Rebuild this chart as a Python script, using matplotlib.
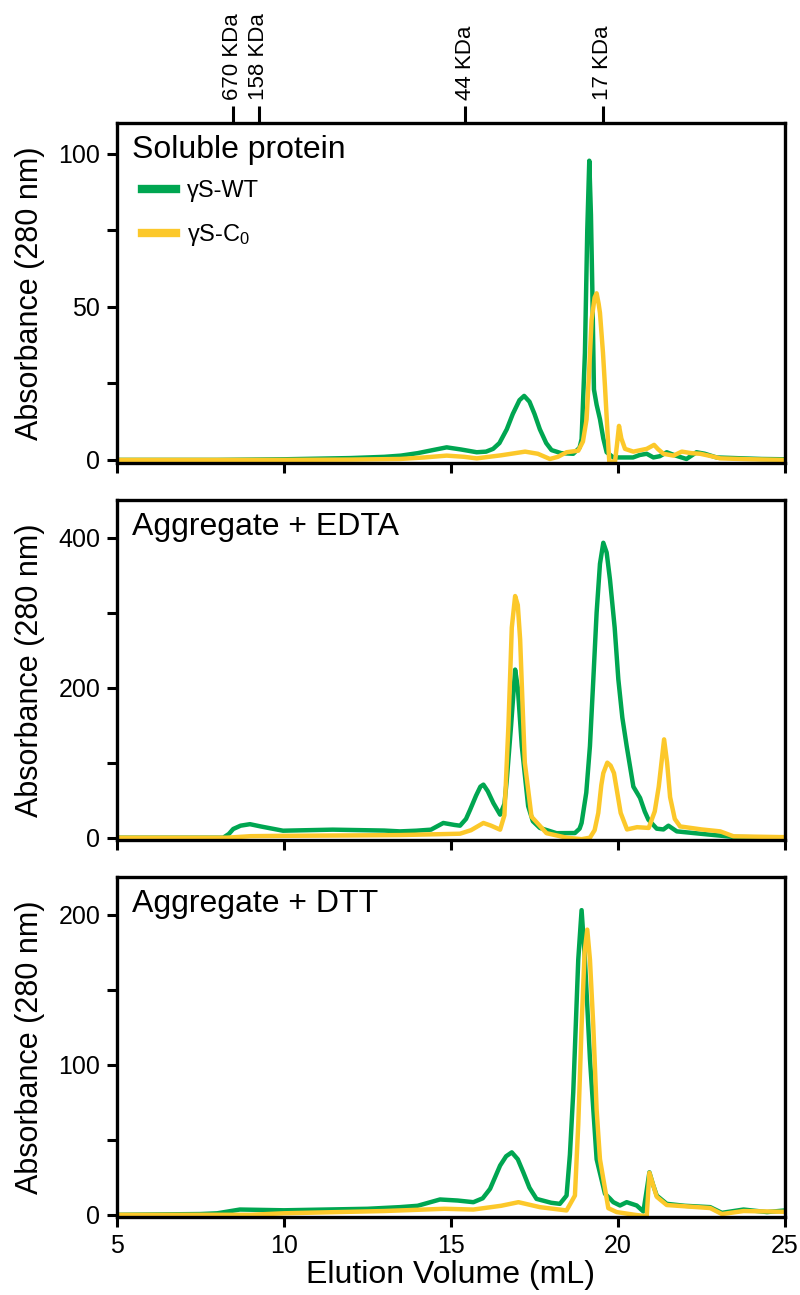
import matplotlib
matplotlib.use("Agg")
import matplotlib.pyplot as plt
from matplotlib.lines import Line2D
from matplotlib import font_manager

names = {f.name for f in font_manager.fontManager.ttflist}
MAIN_FONT = "Liberation Sans" if "Liberation Sans" in names else "DejaVu Sans"
plt.rcParams["font.family"] = [MAIN_FONT, "DejaVu Sans"]
plt.rcParams["mathtext.fontset"] = "custom"
plt.rcParams["mathtext.rm"] = MAIN_FONT
plt.rcParams["mathtext.it"] = MAIN_FONT

GREEN = "#00a651"
YELLOW = "#fcc82a"

# ---- data ----
# Soluble protein
sol_wt_x = [5, 8, 10, 11, 12, 13, 13.5, 14.0, 14.5, 14.87, 15.3, 15.77, 16.05, 16.26, 16.45,
            16.67, 16.85, 17.05, 17.19, 17.35, 17.5, 17.66, 17.85, 18.01, 18.3, 18.66, 18.85,
            18.91, 19.01, 19.08, 19.14, 19.19, 19.23, 19.28, 19.36, 19.46, 19.56, 19.66, 19.86,
            20.2, 20.45, 20.65, 20.86, 21.06, 21.25, 21.46, 21.7, 22.05, 22.35, 22.6, 22.95,
            23.75, 24.3, 25]
sol_wt_y = [0, 0, 0.2, 0.4, 0.6, 1.0, 1.4, 2.2, 3.3, 4.1, 3.4, 2.5, 2.7, 3.6, 5.5,
            10, 15, 19.5, 20.9, 19, 15, 10, 5.5, 3.2, 2.2, 2, 4,
            6.8, 35, 75, 97.7, 80, 56.6, 23, 18, 13.3, 7, 2.5, 0.8,
            0.8, 0.8, 1.6, 2, 0.8, 1.2, 2.5, 1.5, 0.3, 2.5, 2, 0.8,
            0.5, 0.3, 0.2]
sol_c0_x = [5, 10, 12, 13.47, 14.2, 14.87, 15.4, 15.77, 16.5, 17.22, 17.6, 17.96, 18.2, 18.46,
            18.81, 18.95, 19.06, 19.14, 19.21, 19.3, 19.36, 19.42, 19.46, 19.55, 19.61, 19.68,
            19.74, 19.91, 19.97, 20.03, 20.1, 20.21, 20.46, 20.86, 21.08, 21.2, 21.36, 21.66,
            21.91, 22.2, 22.46, 22.8, 23.06, 24, 25]
sol_c0_y = [0, 0, 0.1, 0.3, 0.8, 1.4, 1.0, 0.5, 1.5, 2.7, 2.0, 0.3, 1.0, 2.5,
            3, 6, 13.3, 30, 45.8, 53, 54.4, 51, 48, 35, 24, 10,
            -0.6, -0.6, 5, 11.1, 7, 3.6, 2.7, 3.6, 4.9, 3.5, 2, 1.4,
            2.7, 2.2, 2, 1.2, 0.5, 0.2, 0]

# Aggregate + EDTA
edta_wt_x = [5, 8.18, 8.35, 8.48, 8.7, 8.98, 9.3, 9.97, 11.46, 13.0, 13.47, 13.96, 14.4, 14.77,
             15.1, 15.27, 15.45, 15.57, 15.75, 15.88, 15.97, 16.1, 16.27, 16.47, 16.6, 16.67,
             16.8, 16.92, 17.0, 17.12, 17.31, 17.45, 17.66, 18.16, 18.71, 18.85, 18.91, 19.05,
             19.16, 19.26, 19.36, 19.46, 19.56, 19.66, 19.76, 19.9, 20.01, 20.13, 20.26, 20.46,
             20.66, 20.8, 20.91, 21.16, 21.36, 21.51, 21.76, 22.46, 23.46, 25]
edta_wt_y = [0, 0, 5, 11.6, 16, 18, 15, 9.3, 10.7, 9.5, 8.4, 9.3, 10.7, 19.6,
             17, 16, 25, 37, 56, 68, 70.7, 62, 46, 30.7, 45, 77,
             150, 224, 200, 122, 42, 22, 13, 6, 6.2, 12, 19.6, 60,
             122, 210, 300, 365, 393, 380, 344, 280, 211, 160, 122, 68,
             53, 35, 24, 12, 11, 16, 8.4, 5.3, 1, 0]
edta_c0_x = [5, 8.3, 9.0, 10, 12, 13.47, 14.5, 15.27, 15.6, 15.97, 16.2, 16.47, 16.6, 16.72,
             16.82, 16.92, 17.0, 17.07, 17.14, 17.21, 17.41, 17.86, 18.46, 18.91, 19.16, 19.3,
             19.41, 19.5, 19.56, 19.68, 19.78, 19.88, 20.08, 20.27, 20.57, 20.92, 21.1, 21.22,
             21.38, 21.47, 21.56, 21.7, 21.86, 22.5, 23.06, 23.46, 25]
edta_c0_y = [0, 0, 2, 2.5, 3, 3.5, 4.5, 5.3, 10, 19.6, 16, 10.7, 30, 150,
             280, 322, 310, 264, 180, 100, 28, 6, 0, -2, 0, 10,
             33, 70, 86, 100, 96, 86, 33, 11, 14, 13, 35, 68,
             131, 100, 54, 25, 15, 11, 8.4, 1.8, 0.7]

# Aggregate + DTT
dtt_wt_x = [5, 7.5, 8.0, 8.68, 10, 12.5, 13.47, 14.0, 14.67, 15.2, 15.67, 15.95, 16.17, 16.47,
            16.65, 16.82, 17.0, 17.17, 17.35, 17.56, 18.0, 18.26, 18.46, 18.56, 18.66, 18.81,
            18.91, 19.01, 19.16, 19.36, 19.61, 19.75, 19.86, 20.06, 20.26, 20.56, 20.76, 20.85,
            20.94, 21.05, 21.16, 21.46, 22.0, 22.76, 23.11, 23.76, 24.46, 25]
dtt_wt_y = [0, 0.5, 1, 3.5, 3, 4, 5.1, 6, 10.2, 9.5, 8.4, 11, 17.3, 32.8,
            39, 41.6, 37, 28, 18, 10.6, 8, 7.3, 12.8, 40, 81.5, 170,
            203, 170, 104, 37, 14, 11, 8.4, 6.2, 8.4, 6.2, 2.2, 15,
            28.3, 20, 12.8, 7.3, 6, 5.1, 1.3, 3.5, 1.8, 2.9]
dtt_c0_x = [5, 9, 10, 13, 14.8, 15.67, 16.5, 17.02, 17.66, 18.46, 18.71, 18.81, 18.91, 19.0,
            19.08, 19.16, 19.26, 19.36, 19.46, 19.71, 19.96, 20.5, 20.86, 20.94, 21.05, 21.16,
            21.46, 22.76, 23.11, 23.76, 25]
dtt_c0_y = [0, 0, 1, 2.5, 4, 3.5, 6, 8.4, 5.1, 2.9, 12.8, 60, 126, 175,
            190, 170, 126, 70, 37, 4.4, 1.8, 0, -1, 28, 20, 12,
            6.5, 4.5, 0.5, 2.5, 2]

panel_titles = ["Soluble protein", "Aggregate + EDTA", "Aggregate + DTT"]
series = [(sol_wt_x, sol_wt_y, sol_c0_x, sol_c0_y),
          (edta_wt_x, edta_wt_y, edta_c0_x, edta_c0_y),
          (dtt_wt_x, dtt_wt_y, dtt_c0_x, dtt_c0_y)]
ylims = [(-1, 110), (-3, 450), (-1.5, 225)]
yticks_major = [[0, 50, 100], [0, 200, 400], [0, 100, 200]]
yticks_minor = [[25, 75], [100, 300], [50, 150]]

marker_pos = [8.47, 9.25, 15.42, 19.55]
marker_labels = ["670 KDa", "158 KDa", "44 KDa", "17 KDa"]

fig = plt.figure(figsize=(8, 12.95), dpi=100)
left = 0.14625
width = 0.835
bottoms = [0.6425, 0.3514, 0.0602]
height = 0.2625

for i in range(3):
    ax = fig.add_axes([left, bottoms[i], width, height])
    wx, wy, cx, cy = series[i]
    ax.plot(wx, wy, color=GREEN, lw=3.2, solid_joinstyle="round", solid_capstyle="round")
    ax.plot(cx, cy, color=YELLOW, lw=3.2, solid_joinstyle="round", solid_capstyle="round")
    ax.set_xlim(5, 25)
    ax.set_ylim(*ylims[i])
    ax.set_xticks([5, 10, 15, 20, 25])
    ax.set_yticks(yticks_major[i])
    ax.set_yticks(yticks_minor[i], minor=True)
    ax.tick_params(axis="both", which="both", direction="out", width=2.2, length=7,
                   pad=5, labelsize=18, top=False, right=False)
    if i < 2:
        ax.tick_params(axis="x", labelbottom=False)
    for sp in ax.spines.values():
        sp.set_linewidth(2.4)
    ax.set_ylabel("Absorbance (280 nm)", fontsize=22)
    ax.yaxis.set_label_coords(-0.108, 0.5)
    ax.text(0.022, 0.92, panel_titles[i], transform=ax.transAxes, fontsize=23,
            ha="left", va="center")
    if i == 0:
        handles = [Line2D([], [], color=GREEN, lw=6), Line2D([], [], color=YELLOW, lw=6)]
        ax.legend(handles, ["γS-WT", "γS-C$_0$"], loc="upper left",
                  bbox_to_anchor=(0.037, 0.832), frameon=False, borderpad=0,
                  borderaxespad=0, fontsize=17, handlelength=1.45,
                  labelspacing=0.85, handletextpad=0.45)
        top = ax.twiny()
        top.set_xlim(5, 25)
        top.set_xticks(marker_pos)
        top.set_xticklabels(marker_labels, rotation=90, fontsize=16)
        top.tick_params(axis="x", direction="out", width=2.2, length=12.5, pad=4)
        for sp in top.spines.values():
            sp.set_visible(False)
    if i == 2:
        ax.set_xlabel("Elution Volume (mL)", fontsize=23, labelpad=2)

fig.savefig("out.png", dpi=100)
